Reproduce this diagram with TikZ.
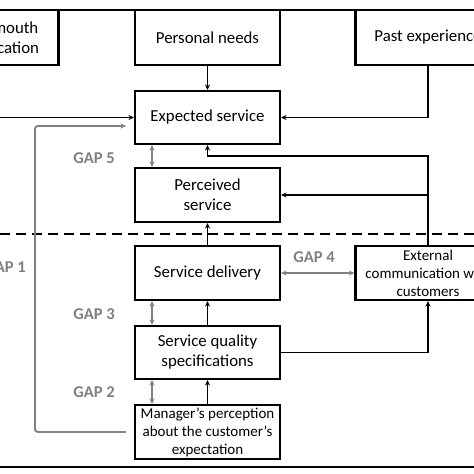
\documentclass[tikz,border=0pt]{standalone}
\usepackage{fontspec}
\setmainfont{Carlito}
\usetikzlibrary{arrows.meta,calc}
\definecolor{gapgray}{RGB}{128,128,128}
\tikzset{
  box/.style={draw=black,line width=2.1pt,minimum width=145pt,minimum height=54pt,align=center,inner sep=1pt,font=\fontsize{16.8}{20}\selectfont},
  smallbox/.style={box,font=\fontsize{15}{18}\selectfont},
  conn/.style={line width=1.9pt,-{Stealth[length=5.5pt,width=5pt]}},
  grayline/.style={draw=gapgray,line width=1.9pt,-{Stealth[length=5.5pt,width=5pt]},rounded corners=3pt},
  gaparrow/.style={draw=gapgray,line width=1.9pt,{Stealth[length=5.5pt,width=5pt]}-{Stealth[length=5.5pt,width=5pt]}},
  gaplabel/.style={text=gapgray,font=\fontsize{16.5}{18}\selectfont\bfseries,inner sep=0pt}
}
\begin{document}
\begin{tikzpicture}[x=1pt,y=-1pt]
\useasboundingbox (0,0) rectangle (474,474);
\clip (0,0) rectangle (474,474);
\fill[white] (0,0) rectangle (474,474);
% outer frame (only top and bottom visible)
\draw[line width=2.8pt] (-120,10) rectangle (620,467);
% boxes
\node[box,minimum height=55pt] (wom) at (-14,37.5) {Word of mouth\\communication};
\node[box,minimum height=55pt] (pn) at (207.5,37.5) {Personal needs};
\node[box,minimum height=55pt] (pe) at (428,37.5) {Past experience};
\node[box,minimum height=53pt] (es) at (207.5,117.5) {Expected service};
\node[box] (ps) at (207.5,195) {Perceived\\service};
\node[box] (sd) at (207.5,273) {Service delivery};
\node[box,minimum height=53pt] (sqs) at (207.5,352.5) {Service quality\\specifications};
\node[smallbox] (mp) at (207.5,432) {Manager’s perception\\about the customer’s\\expectation};
\node[smallbox] (ec) at (428,273) {External\\communication with\\customers};
% dashed separator
\draw[line width=2.4pt,dash pattern=on 10pt off 6pt] (0,234) -- (474,234);
% black connectors
\draw[conn] (pn.south) -- (es.north);
\draw[conn] (wom.south) |- (es.west);
\draw[conn] (pe.south) |- (es.east);
\coordinate (ecturn) at (428,156);
\draw[conn] (ec.north) -- (ecturn) -| (es.south);
\draw[conn] (ec.north |- ps.east) -- (ps.east);
\draw[conn] (sd.north) -- (ps.south);
\draw[conn] (sqs.north) -- (sd.south);
\draw[conn] (mp.north) -- (sqs.south);
\draw[conn] (sqs.east) -| (ec.south);
% gray GAP 1 line
\draw[grayline] ([xshift=-8pt]mp.west) -| ++(-91,0) |- ([xshift=-8pt,yshift=-8.5pt]es.west);
% gap double arrows
\coordinate (gx) at (152,0);
\draw[gaparrow] (es.south -| gx) -- (ps.north -| gx);
\draw[gaparrow] (sd.south -| gx) -- (sqs.north -| gx);
\draw[gaparrow] (sqs.south -| gx) -- (mp.north -| gx);
\draw[gaparrow] (sd.east) -- (ec.west);
% gap labels
\node[gaplabel] (g5) at (94,158) {GAP 5};
\node[gaplabel] (g3) at (94,314) {GAP 3};
\node[gaplabel] (g2) at (94,392) {GAP 2};
\node[gaplabel] (g4) at (314,257) {GAP 4};
\node[gaplabel] (g1) at (5,267) {GAP 1};
\end{tikzpicture}
\end{document}
